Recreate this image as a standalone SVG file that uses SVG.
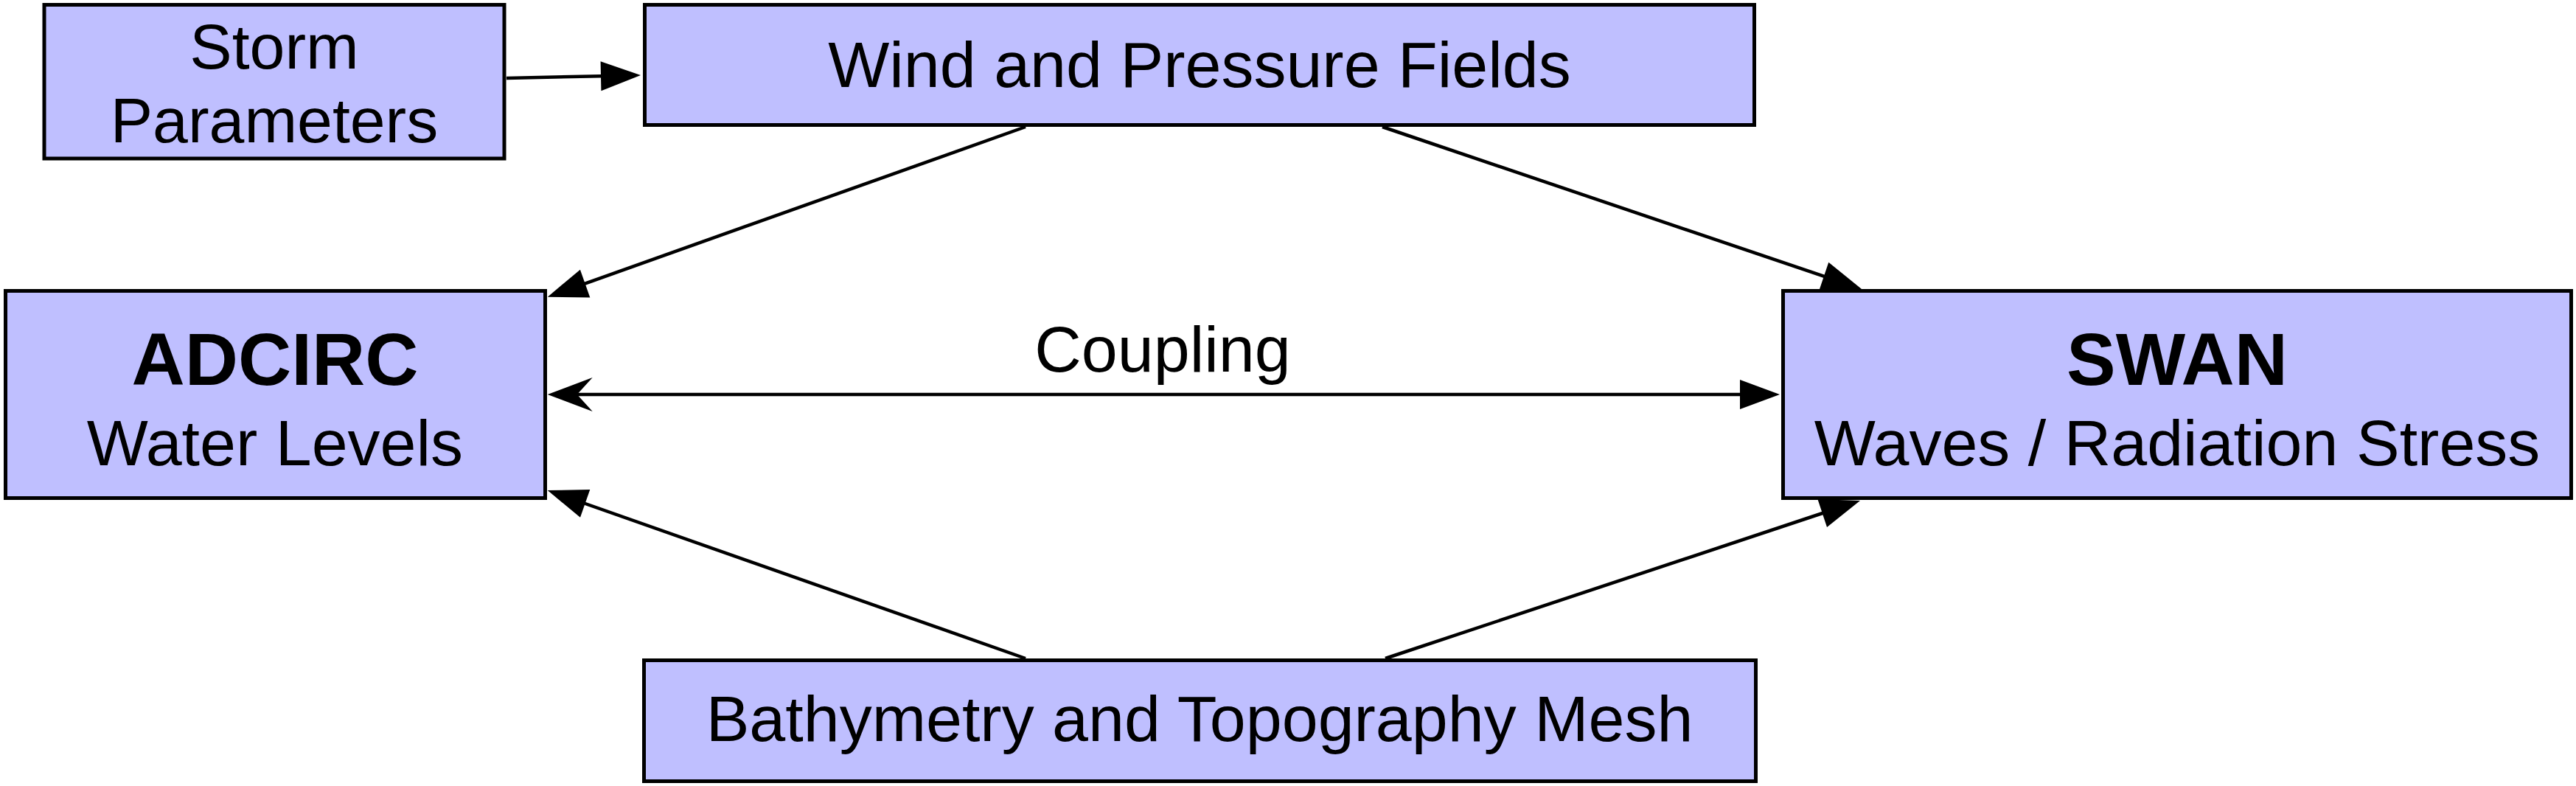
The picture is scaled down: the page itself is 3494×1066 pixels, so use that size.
<svg xmlns="http://www.w3.org/2000/svg" width="3494" height="1066" viewBox="0 0 3494 1066">
<style>
.box{fill:#BFBFFF;stroke:#000;stroke-width:5}
.t{font-family:"Liberation Sans",Arial,Helvetica,sans-serif;font-size:88px;fill:#000;text-anchor:middle}
.b{font-weight:bold;font-size:100px}
.c{fill:none;stroke:#000;stroke-width:4.5}
</style>
<defs>
<marker id="arr" markerUnits="userSpaceOnUse" markerWidth="60" markerHeight="44" refX="24" refY="20" orient="auto" overflow="visible">
<path d="M0,0 L54,20 L0,40 Z" fill="#000"/>
</marker>
<marker id="stealth" markerUnits="userSpaceOnUse" markerWidth="64" markerHeight="48" refX="31" refY="23" orient="auto-start-reverse" overflow="visible">
<path d="M0,0 L61,23 L0,46 L21,23 Z" fill="#000"/>
</marker>
</defs>
<rect width="3494" height="1066" fill="#fff"/>
<g id="connectors">
<line class="c" x1="687" y1="106" x2="839" y2="102.7" marker-end="url(#arr)"/>
<line class="c" x1="1391" y1="172" x2="771" y2="392.6" marker-end="url(#arr)"/>
<line class="c" x1="1875" y1="172" x2="2496.6" y2="382.4" marker-end="url(#arr)"/>
<line class="c" x1="1391" y1="893" x2="771" y2="675" marker-end="url(#arr)"/>
<line class="c" x1="1879" y1="893" x2="2494.5" y2="688.5" marker-end="url(#arr)"/>
<line class="c" x1="772.7" y1="535" x2="2384" y2="535" marker-start="url(#stealth)" marker-end="url(#arr)"/>
<text class="t" x="1577" y="504">Coupling</text>
</g>
<g id="storm">
<rect class="box" x="60" y="6.5" width="624" height="208.5"/>
<text class="t" x="372" y="93" style="font-size:86px">Storm</text>
<text class="t" x="372" y="193" style="font-size:86px">Parameters</text>
</g>
<g id="wind">
<rect class="box" x="874.5" y="6.5" width="1505" height="163"/>
<text class="t" x="1627" y="118">Wind and Pressure Fields</text>
</g>
<g id="adcirc">
<rect class="box" x="7.5" y="394.5" width="732" height="281"/>
<text class="t b" x="373" y="522">ADCIRC</text>
<text class="t" x="373" y="631">Water Levels</text>
</g>
<g id="swan">
<rect class="box" x="2418.5" y="394.5" width="1069" height="281"/>
<text class="t b" x="2953" y="522">SWAN</text>
<text class="t" x="2953" y="631">Waves / Radiation Stress</text>
</g>
<g id="bathy">
<rect class="box" x="873.5" y="895.5" width="1508" height="164"/>
<text class="t" x="1627" y="1005">Bathymetry and Topography Mesh</text>
</g>
</svg>
